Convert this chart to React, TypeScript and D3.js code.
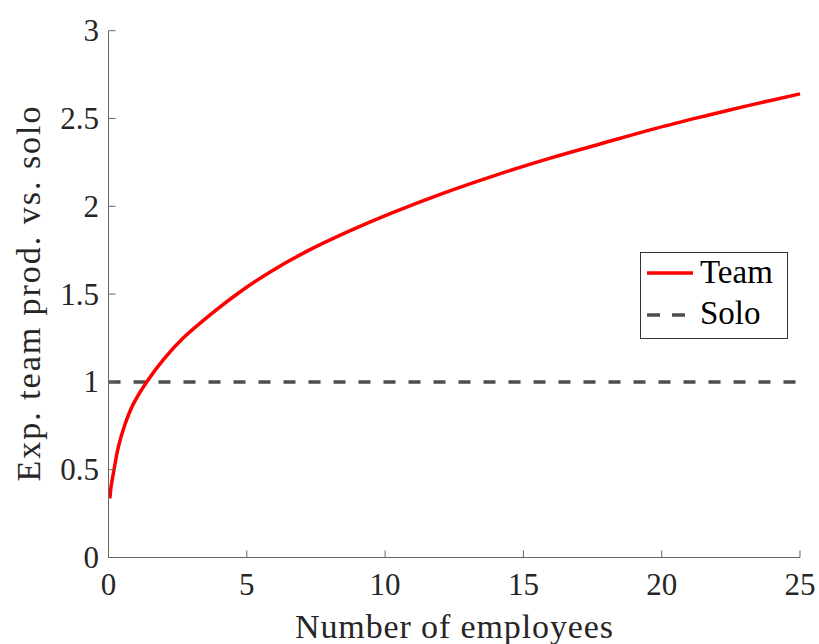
import React from "react";
import * as d3 from "d3";

// Values
const teamX = [0.05, 0.09, 0.2, 0.35, 0.6, 0.9, 1.38, 2.0, 2.7, 3.66, 4.69, 5.83, 7.27, 8.72, 10.16, 12.09, 14.01, 15.94, 17.86, 19.79, 21.71, 23.16, 25];
const teamY = [0.337, 0.4, 0.5, 0.625, 0.76, 0.875, 1.0, 1.13, 1.25, 1.38, 1.505, 1.625, 1.752, 1.86, 1.957, 2.074, 2.178, 2.273, 2.359, 2.444, 2.52, 2.575, 2.64];
const soloX = [0, 25];
const soloY = [1, 1];
const xTicks = [0, 5, 10, 15, 20, 25];
const yTicks = [0, 0.5, 1, 1.5, 2, 2.5, 3];
const xLabel = "Number of employees";
const yLabel = "Exp. team prod. vs. solo";
const legendLabels = ["Team", "Solo"];

const W = 819;
const H = 644;
const FONT =
  "'Liberation Serif', 'Tinos', 'Times New Roman', Times, 'Noto Serif', 'DejaVu Serif', 'FreeSerif', serif";

export default function App() {
  const x = d3.scaleLinear().domain([0, 25]).range([108.5, 800]);
  const y = d3.scaleLinear().domain([0, 3]).range([557.5, 30.7]);

  const line = d3
    .line<[number, number]>()
    .x((d) => x(d[0]))
    .y((d) => y(d[1]))
    .curve(d3.curveCatmullRom.alpha(0.5));

  const teamData: [number, number][] = teamX.map((v, i) => [v, teamY[i]]);
  const soloData: [number, number][] = soloX.map((v, i) => [v, soloY[i]]);

  const axisColor = "#666666";
  const textColor = "#262626";
  const txt: React.CSSProperties = { fontFamily: FONT };

  const lgX = 640.5;
  const lgY = 252.5;
  const lgW = 147;
  const lgH = 86;

  return (
    <svg
      width={W}
      height={H}
      style={{ position: "absolute", left: 0, top: 0, background: "#fff", fontFamily: FONT }}
    >
      <rect x={0} y={0} width={W} height={H} fill="#fff" />

      {/* data */}
      <path
        d={line(soloData) || ""}
        fill="none"
        stroke="#4d4d4d"
        strokeWidth={3.5}
        strokeDasharray="12,13"
      />
      <path d={line(teamData) || ""} fill="none" stroke="#ff0000" strokeWidth={3.5} />

      {/* axes */}
      <line x1={x(0)} x2={x(0)} y1={y(0)} y2={y(3)} stroke={axisColor} strokeWidth={1} />
      <line x1={x(0)} x2={x(25)} y1={y(0)} y2={y(0)} stroke={axisColor} strokeWidth={1} />

      {xTicks.map((t) => (
        <g key={"xt" + t}>
          <line x1={x(t)} x2={x(t)} y1={y(0)} y2={y(0) - 7} stroke={axisColor} strokeWidth={1} />
          <text x={x(t)} y={595} textAnchor="middle" fontSize={31} fill={textColor} style={txt}>
            {String(t)}
          </text>
        </g>
      ))}

      {yTicks.map((t) => (
        <g key={"yt" + t}>
          <line x1={x(0)} x2={x(0) + 7} y1={y(t)} y2={y(t)} stroke={axisColor} strokeWidth={1} />
          <text x={99} y={y(t)} dy="0.34em" textAnchor="end" fontSize={31} fill={textColor} style={txt}>
            {String(t)}
          </text>
        </g>
      ))}

      {/* axis labels */}
      <text x={454} y={638} textAnchor="middle" fontSize={34} fill={textColor} textLength={318} lengthAdjust="spacing" style={txt}>
        {xLabel}
      </text>
      <text
        transform="translate(40,294) rotate(-90)"
        textAnchor="middle"
        fontSize={34}
        fill={textColor}
        textLength={375}
        lengthAdjust="spacing"
        style={txt}
      >
        {yLabel}
      </text>

      {/* legend */}
      <rect x={lgX} y={lgY} width={lgW} height={lgH} fill="#fff" stroke="#333" strokeWidth={1} />
      <line x1={647} x2={693} y1={273} y2={273} stroke="#ff0000" strokeWidth={3.5} />
      <text x={700} y={283} fontSize={33} fill="#000" style={txt}>
        {legendLabels[0]}
      </text>
      <line x1={647} x2={693} y1={315} y2={315} stroke="#4d4d4d" strokeWidth={3.5} strokeDasharray="13,12" />
      <text x={700} y={324} fontSize={33} fill="#000" style={txt}>
        {legendLabels[1]}
      </text>
    </svg>
  );
}
